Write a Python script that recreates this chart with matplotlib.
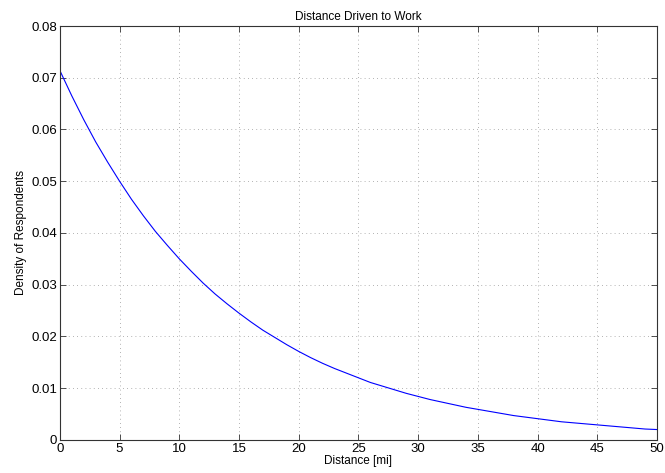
import matplotlib.pyplot as plt

plt.rcParams['font.family'] = ['Liberation Sans', 'DejaVu Sans']

# distance [mi] and density
distance = list(range(0, 51))
density = [0.0714, 0.0665, 0.0619, 0.0576, 0.0537, 0.0500, 0.0465, 0.0433,
           0.0403, 0.0376, 0.0350, 0.0326, 0.0303, 0.0282, 0.0263, 0.0245,
           0.0228, 0.0212, 0.0198, 0.0184, 0.0171, 0.0159, 0.0148, 0.0138,
           0.0129, 0.0120, 0.0111, 0.0104, 0.0097, 0.0090, 0.0084, 0.0078,
           0.0073, 0.0068, 0.0063, 0.0059, 0.0055, 0.0051, 0.0047, 0.0044,
           0.0041, 0.0038, 0.0035, 0.0033, 0.0031, 0.0029, 0.0027, 0.0025,
           0.0023, 0.0021, 0.0020]
xticks = list(range(0, 51, 5))
yticks = [0, 0.01, 0.02, 0.03, 0.04, 0.05, 0.06, 0.07, 0.08]
ytick_labels = ['0', '0.01', '0.02', '0.03', '0.04', '0.05', '0.06', '0.07', '0.08']

fig = plt.figure(figsize=(6.65, 4.73), dpi=100)
ax = fig.add_axes([0.090, 0.070, 0.898, 0.875])

ax.plot(distance, density, color='blue', linewidth=0.8)

ax.set_xlim(0, 50)
ax.set_ylim(0, 0.08)
ax.set_xticks(xticks)
ax.set_xticklabels([str(t) for t in xticks])
ax.set_yticks(yticks)
ax.set_yticklabels(ytick_labels)
ax.tick_params(direction='in', top=True, right=True, labelsize=9.5,
               length=4, width=0.6, color='#333333', pad=2)
ax.grid(True, linestyle=(0, (1, 4)), color='#999999', linewidth=0.6)
for s in ax.spines.values():
    s.set_color('#333333')
    s.set_linewidth(0.8)

ax.set_title('Distance Driven to Work', fontsize=8.5, pad=4)
ax.set_xlabel('Distance [mi]', fontsize=8.5, labelpad=0)
ax.set_ylabel('Density of Respondents', fontsize=8.5, labelpad=3)

fig.savefig('out.png', dpi=100)
